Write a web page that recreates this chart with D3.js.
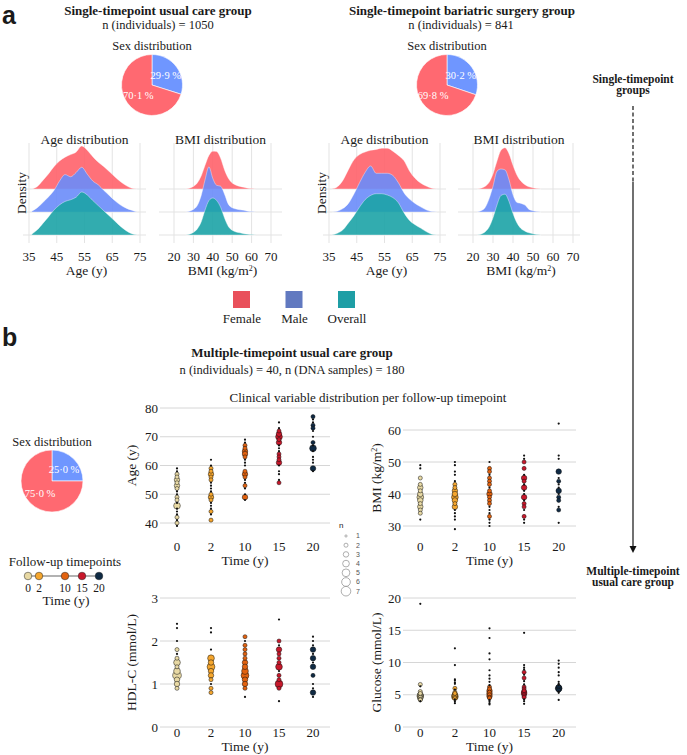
<!DOCTYPE html>
<html>
<head>
<meta charset="utf-8">
<script src="https://cdn.jsdelivr.net/npm/d3@7"></script>
<style>
  body { margin: 0; background: #fff; }
  svg text { font-family: "Liberation Serif", "Times New Roman", serif; fill: #1a1a1a; }
</style>
</head>
<body>
<div id="fig"></div>
<script>
// ---- data ----
const sexLabels = ["Male", "Female"];
const sexSingleUsual = [29.9, 70.1];
const sexSingleBariatric = [30.2, 69.8];
const sexMultiple = [25.0, 75.0];

const groupLabels = ["Female", "Male", "Overall"];

// ridge curves, relative density
const ageGrid = [36, 38, 40, 42, 44, 46, 48, 50, 52, 54, 56, 58, 60, 62, 64, 66, 68, 70, 72, 74];
const usualAgeFemale = [0, 0.06, 0.2, 0.35, 0.52, 0.65, 0.74, 0.8, 0.86, 1.0, 0.9, 0.75, 0.62, 0.52, 0.4, 0.28, 0.17, 0.08, 0.02, 0];
const usualAgeMale = [0.02, 0.1, 0.22, 0.35, 0.5, 0.72, 0.87, 0.82, 0.92, 1.04, 0.88, 0.72, 0.63, 0.5, 0.38, 0.26, 0.16, 0.09, 0.04, 0];
const usualAgeOverall = [0.02, 0.12, 0.27, 0.42, 0.58, 0.7, 0.78, 0.82, 0.88, 1.0, 0.93, 0.8, 0.68, 0.56, 0.44, 0.32, 0.2, 0.1, 0.03, 0];
const bariAgeFemale = [0, 0.05, 0.2, 0.45, 0.68, 0.8, 0.86, 0.9, 0.92, 0.95, 0.95, 0.88, 0.78, 0.66, 0.42, 0.25, 0.14, 0.07, 0.02, 0];
const bariAgeMale = [0, 0.02, 0.08, 0.2, 0.42, 0.68, 0.92, 1.07, 0.9, 0.9, 0.9, 0.85, 0.68, 0.45, 0.3, 0.2, 0.12, 0.05, 0.01, 0];
const bariAgeOverall = [0, 0.04, 0.12, 0.28, 0.45, 0.65, 0.82, 0.92, 0.96, 0.96, 0.93, 0.87, 0.75, 0.52, 0.34, 0.24, 0.16, 0.08, 0.02, 0];

const usualBmiGrid = [26, 28, 30, 32, 34, 36, 38, 40, 42, 44, 46, 48, 50, 52, 54, 56, 58, 60, 62];
const usualBmiFemale = [0, 0.02, 0.06, 0.14, 0.3, 0.55, 0.78, 0.88, 0.87, 0.72, 0.45, 0.25, 0.14, 0.09, 0.06, 0.04, 0.02, 0.01, 0];
const usualBmiMale = [0, 0.02, 0.06, 0.15, 0.38, 0.75, 1.05, 0.78, 0.62, 0.6, 0.42, 0.18, 0.1, 0.07, 0.05, 0.04, 0.02, 0.01, 0];
const usualBmiOverall = [0, 0.02, 0.06, 0.14, 0.3, 0.58, 0.8, 0.86, 0.8, 0.65, 0.4, 0.2, 0.11, 0.07, 0.05, 0.03, 0.02, 0.01, 0];

const bariBmiGrid = [22, 24, 26, 28, 30, 32, 34, 36, 38, 40, 42, 44, 46, 48, 50, 52, 54];
const bariBmiFemale = [0, 0.02, 0.06, 0.15, 0.35, 0.65, 0.9, 0.96, 0.82, 0.55, 0.32, 0.18, 0.1, 0.05, 0.03, 0.01, 0];
const bariBmiMale = [0, 0.03, 0.1, 0.3, 0.6, 0.95, 1.0, 0.98, 0.75, 0.4, 0.22, 0.2, 0.16, 0.06, 0.03, 0.01, 0];
const bariBmiOverall = [0, 0.02, 0.07, 0.18, 0.4, 0.7, 0.92, 0.95, 0.78, 0.5, 0.28, 0.15, 0.09, 0.05, 0.03, 0.01, 0];

const ageTicks = [35, 45, 55, 65, 75];
const bmiTicks = [20, 30, 40, 50, 60, 70];

// multiple-timepoint group: [value, n] per follow-up timepoint
const timepoints = ["0", "2", "10", "15", "20"];
const timeColors = ["#E8D9A4", "#F5A62E", "#E2620F", "#C8182B", "#0F2A44"];

const ageDots = [
  [[59,1],[58,1],[57,2],[56,2],[55,3],[54,2],[53,3],[52,2],[51,1],[50,1],[49,2],[48,2],[47,1],[46,4],[45,1],[44,1],[43,1],[42,2],[41,1],[40,2],[39,1]],
  [[62,1],[60,1],[59,2],[58,2],[57,3],[56,2],[55,2],[54,1],[53,1],[52,1],[51,1],[50,2],[49,3],[48,2],[47,1],[46,1],[45,1],[44,2],[43,1],[41,2]],
  [[69,1],[68,1],[67,2],[66,2],[65,3],[64,3],[63,2],[62,1],[61,1],[60,1],[58,2],[57,3],[56,2],[55,1],[54,1],[53,2],[52,1],[50,1],[49,3],[48,1]],
  [[75,1],[73,1],[72,2],[71,3],[70,4],[69,2],[68,3],[67,1],[66,1],[65,1],[64,2],[63,2],[62,2],[61,3],[60,1],[58,1],[57,1],[55,1],[54,2]],
  [[77,2],[76,1],[75,1],[74,2],[73,2],[72,1],[70,1],[68,2],[67,1],[66,4],[65,1],[63,1],[62,1],[61,1],[59,3],[58,1]]
];
const bmiDots = [
  [[49,1],[48,1],[45,2],[43,2],[42,3],[41,2],[40,3],[39,4],[38,3],[37,2],[36,3],[35,2],[34,2],[32,1]],
  [[50,1],[49,1],[47,1],[46,1],[44,1],[43,2],[42,2],[41,3],[40,3],[39,4],[38,3],[37,2],[36,3],[35,1],[34,1],[33,1],[32,1],[29,1]],
  [[50,1],[48,2],[47,2],[46,1],[45,2],[44,2],[43,2],[42,1],[41,2],[40,3],[39,2],[38,2],[37,2],[36,1],[35,1],[34,1],[33,2],[32,1],[31,1],[30,1]],
  [[52,1],[51,1],[50,2],[48,2],[46,1],[45,3],[44,2],[43,1],[42,3],[41,1],[40,1],[39,3],[38,1],[37,2],[36,2],[35,1],[33,2],[32,1],[31,1]],
  [[62,1],[52,1],[51,1],[47,3],[45,1],[44,2],[43,1],[42,1],[41,3],[40,1],[39,2],[38,2],[36,1],[35,2],[31,1]]
];
const hdlDots = [
  [[2.4,1],[2.3,1],[2.0,1],[1.8,2],[1.7,1],[1.6,2],[1.5,4],[1.4,2],[1.3,4],[1.2,6],[1.1,3],[1.0,3],[0.9,2]],
  [[2.3,1],[2.2,1],[1.8,1],[1.6,4],[1.5,3],[1.4,5],[1.3,3],[1.2,3],[1.1,2],[1.0,1],[0.9,2],[0.8,2]],
  [[2.1,2],[2.0,1],[1.9,2],[1.8,2],[1.7,2],[1.6,2],[1.5,3],[1.4,3],[1.3,4],[1.2,5],[1.1,3],[1.0,3],[0.9,2],[0.7,1]],
  [[2.5,1],[2.0,2],[1.9,1],[1.8,3],[1.7,2],[1.6,2],[1.5,2],[1.4,4],[1.3,1],[1.2,2],[1.1,2],[1.0,5],[0.9,2],[0.6,1]],
  [[2.1,1],[2.0,1],[1.9,1],[1.8,3],[1.7,1],[1.6,3],[1.5,1],[1.4,3],[1.2,2],[1.0,1],[0.9,1],[0.8,3],[0.7,1]]
];
const glucoseDots = [
  [[19.1,1],[6.6,2],[6.3,1],[5.5,2],[5.2,2],[5.0,3],[4.9,3],[4.8,4],[4.7,3],[4.6,2],[4.5,3],[4.3,2],[4.2,2],[4.0,1]],
  [[12.2,1],[9.6,1],[7.4,1],[7.2,1],[6.9,1],[6.7,1],[6.0,2],[5.8,1],[5.4,2],[5.2,2],[5.0,3],[4.9,3],[4.8,3],[4.7,4],[4.6,2],[4.4,2],[4.3,1],[4.0,1],[3.7,1]],
  [[15.3,1],[13.8,1],[11.4,1],[10.5,1],[8.8,1],[8.0,1],[7.5,1],[7.0,1],[6.5,1],[6.2,2],[5.9,2],[5.6,3],[5.4,2],[5.2,3],[5.0,2],[4.8,3],[4.6,2],[4.5,2],[4.2,1],[4.0,1],[3.7,1],[3.5,1]],
  [[14.6,1],[9.6,1],[9.2,1],[8.9,1],[8.5,2],[8.1,1],[7.6,2],[7.1,1],[6.6,1],[6.2,2],[5.9,2],[5.6,2],[5.4,3],[5.2,3],[5.0,2],[4.8,2],[4.6,2],[4.3,1],[4.0,1],[3.6,1]],
  [[10.3,1],[9.8,1],[9.2,1],[8.5,1],[8.0,1],[7.0,1],[6.7,1],[6.5,1],[6.3,2],[6.1,3],[6.0,4],[5.9,3],[5.7,2],[5.5,1],[5.3,1],[4.2,1]]
];
const nLevels = [1, 2, 3, 4, 5, 6, 7];

// ---- styles ----
const ridgeColors = ["#FF626A", "#6A8CFA", "#1CA3A6"];
const legendColors = ["#E9505B", "#6179C0", "#1E9EA5"];
const pieColors = ["#6F96FF", "#FF6971"];
const gridCol = "#e3e3e3";

const svg = d3.select("#fig").append("svg").attr("width", 687).attr("height", 755);

function label(x, y, s, size, opt = {}) {
  return svg.append("text").attr("x", x).attr("y", y)
    .attr("text-anchor", opt.anchor || "middle")
    .style("font-size", size + "px")
    .style("font-weight", opt.bold ? "bold" : null)
    .text(s);
}

// panel letters
svg.append("text").attr("x", 2).attr("y", 24).style("font-family", "Liberation Sans, Arial, sans-serif")
  .style("font-size", "25px").style("font-weight", "bold").text("a");
svg.append("text").attr("x", 2).attr("y", 346).style("font-family", "Liberation Sans, Arial, sans-serif")
  .style("font-size", "25px").style("font-weight", "bold").text("b");

// ---- pies ----
function drawPie(cx, cy, r, vals, labelR) {
  const arcs = d3.pie().sort(null)(vals);
  const g = svg.append("g").attr("transform", `translate(${cx},${cy})`);
  const arc = d3.arc().innerRadius(0).outerRadius(r);
  g.selectAll("path").data(arcs).enter().append("path")
    .attr("d", arc).attr("fill", (d, i) => pieColors[i])
    .attr("stroke", "#fff").attr("stroke-width", 0.6);
  const lab = d3.arc().innerRadius(labelR).outerRadius(labelR);
  g.selectAll("text").data(arcs).enter().append("text")
    .attr("transform", d => `translate(${lab.centroid(d)})`)
    .attr("text-anchor", "middle").attr("dy", "0.35em")
    .style("font-size", "10.5px").style("fill", "#fff")
    .text(d => d3.format(".1f")(d.data).replace(".", "·") + " %");
}

label(158, 15, "Single-timepoint usual care group", 13, { bold: true });
label(158, 29, "n (individuals) = 1050", 12.5);
label(152, 50, "Sex distribution", 12.5);
drawPie(152, 85, 30.5, sexSingleUsual, 17);

label(462, 15, "Single-timepoint bariatric surgery group", 13, { bold: true });
label(461, 29, "n (individuals) = 841", 12.5);
label(447, 50, "Sex distribution", 12.5);
drawPie(447, 85, 30.5, sexSingleBariatric, 17);

// ---- ridgeline panels ----
const baselines = [189, 212, 235];
const unit = 43;

function ridgePanel(cfg) {
  const x = d3.scaleLinear().domain(cfg.domain).range(cfg.range);
  const g = svg.append("g");
  cfg.ticks.forEach(t => {
    g.append("line").attr("x1", x(t)).attr("x2", x(t)).attr("y1", 143).attr("y2", 243)
      .attr("stroke", gridCol).attr("stroke-width", 1);
  });
  baselines.forEach(b => {
    g.append("line").attr("x1", cfg.span[0]).attr("x2", cfg.span[1]).attr("y1", b).attr("y2", b)
      .attr("stroke", gridCol).attr("stroke-width", 1);
  });
  cfg.curves.forEach((vals, k) => {
    const base = baselines[k];
    const area = d3.area()
      .x((d, i) => x(cfg.grid[i]))
      .y0(base)
      .y1(d => base - d * unit)
      .curve(d3.curveMonotoneX);
    g.append("path").datum(vals).attr("d", area)
      .attr("fill", ridgeColors[k]).attr("fill-opacity", 0.9)
      .attr("stroke", "#ffffff").attr("stroke-opacity", 0.55).attr("stroke-width", 0.7);
  });
  const ax = g.append("g").attr("transform", "translate(0,261)");
  cfg.ticks.forEach(t => {
    ax.append("text").attr("x", x(t)).attr("text-anchor", "middle").style("font-size", "13px").text(t);
  });
  label((cfg.span[0] + cfg.span[1]) / 2, 144, cfg.title, 13.5);
  const xl = svg.append("text").attr("x", (cfg.span[0] + cfg.span[1]) / 2 + 2).attr("y", 275)
    .attr("text-anchor", "middle").style("font-size", "13.5px");
  if (cfg.unitLabel) {
    xl.append("tspan").text("BMI (kg/m");
    xl.append("tspan").attr("dy", -4).style("font-size", "8px").text("2");
    xl.append("tspan").attr("dy", 4).text(")");
  } else {
    xl.text(cfg.xlabel);
  }
  if (cfg.density) {
    svg.append("text").attr("transform", `translate(${cfg.density},193) rotate(-90)`)
      .attr("text-anchor", "middle").style("font-size", "13.5px").text("Density");
  }
}

ridgePanel({ domain: [35, 75], range: [29, 140], span: [23, 146], grid: ageGrid, ticks: ageTicks,
  curves: [usualAgeFemale, usualAgeMale, usualAgeOverall], title: "Age distribution", xlabel: "Age (y)", density: 26 });
ridgePanel({ domain: [20, 70], range: [174, 271], span: [159, 282], grid: usualBmiGrid, ticks: bmiTicks,
  curves: [usualBmiFemale, usualBmiMale, usualBmiOverall], title: "BMI distribution", unitLabel: true });
ridgePanel({ domain: [35, 75], range: [329, 440], span: [323, 446], grid: ageGrid, ticks: ageTicks,
  curves: [bariAgeFemale, bariAgeMale, bariAgeOverall], title: "Age distribution", xlabel: "Age (y)", density: 326 });
ridgePanel({ domain: [20, 70], range: [473, 573], span: [458, 580], grid: bariBmiGrid, ticks: bmiTicks,
  curves: [bariBmiFemale, bariBmiMale, bariBmiOverall], title: "BMI distribution", unitLabel: true });

// legend for sex groups
const legX = d3.scalePoint().domain(groupLabels).range([242, 347]);
groupLabels.forEach((k, i) => {
  svg.append("rect").attr("x", legX(k) - 9).attr("y", 291).attr("width", 17).attr("height", 17)
    .attr("fill", legendColors[i]);
  label(legX(k), 323, k, 13);
});

// ---- right-hand flow arrow ----
label(633, 83, "Single-timepoint", 11.5, { bold: true });
label(633, 94, "groups", 11.5, { bold: true });
svg.append("line").attr("x1", 633).attr("x2", 633).attr("y1", 106).attr("y2", 182)
  .attr("stroke", "#111").attr("stroke-width", 1.2).attr("stroke-dasharray", "4,2.5");
svg.append("line").attr("x1", 633).attr("x2", 633).attr("y1", 182).attr("y2", 548)
  .attr("stroke", "#111").attr("stroke-width", 1.2);
svg.append("path").attr("d", "M629.5,546 L633,553 L636.5,546 Z").attr("fill", "#111");
label(633, 575, "Multiple-timepoint", 11.5, { bold: true });
label(633, 586, "usual care group", 11.5, { bold: true });

// ---- panel b ----
label(292, 357, "Multiple-timepoint usual care group", 13, { bold: true });
label(292, 374, "n (individuals) = 40, n (DNA samples) = 180", 12.5);
label(368, 402, "Clinical variable distribution per follow-up timepoint", 13);

label(52, 446, "Sex distribution", 12.5);
drawPie(52, 481, 31, sexMultiple, 17);

const size = d3.scaleSqrt().domain([1, 7]).range([1.1, 4.8]);

function dotPanel(cfg) {
  const x = d3.scalePoint().domain(timepoints).range([cfg.left, cfg.right]).padding(0.5);
  const y = d3.scaleLinear().domain(cfg.domain).range([cfg.bottom, cfg.top]);
  const g = svg.append("g");
  cfg.ticks.forEach(t => {
    g.append("line").attr("x1", cfg.left).attr("x2", cfg.right).attr("y1", y(t)).attr("y2", y(t))
      .attr("stroke", "#d6d6d6").attr("stroke-width", 1);
    g.append("text").attr("x", cfg.left - 2).attr("y", y(t)).attr("dy", "0.35em")
      .attr("text-anchor", "end").style("font-size", "13px").text(t);
  });
  timepoints.forEach((tp, i) => {
    const pts = cfg.data[i].slice().sort((a, b) => b[1] - a[1]);
    g.selectAll(null).data(pts).enter().append("circle")
      .attr("cx", x(tp)).attr("cy", d => y(d[0])).attr("r", d => size(d[1]))
      .attr("fill", d => d[1] === 1 ? "#111" : timeColors[i])
      .attr("stroke", "#111").attr("stroke-width", d => d[1] === 1 ? 0 : 0.5);
    g.append("text").attr("x", x(tp)).attr("y", cfg.axisY).attr("text-anchor", "middle")
      .style("font-size", "13px").text(tp);
  });
  label((cfg.left + cfg.right) / 2, cfg.axisY + 14, "Time (y)", 13.5);
  const yl = svg.append("text").attr("transform", `translate(${cfg.ylabX},${(cfg.top + cfg.bottom) / 2}) rotate(-90)`)
    .attr("text-anchor", "middle").style("font-size", "13.5px");
  if (cfg.sup) {
    yl.append("tspan").text("BMI (kg/m");
    yl.append("tspan").attr("dy", -4).style("font-size", "8px").text("2");
    yl.append("tspan").attr("dy", 4).text(")");
  } else {
    yl.text(cfg.ylab);
  }
}

dotPanel({ left: 160, right: 330, top: 408, bottom: 523, axisY: 551, domain: [40, 80], ticks: [40, 50, 60, 70, 80],
  data: ageDots, ylab: "Age (y)", ylabX: 136 });
dotPanel({ left: 403, right: 576, top: 430, bottom: 526, axisY: 551, domain: [30, 60], ticks: [30, 40, 50, 60],
  data: bmiDots, sup: true, ylabX: 381 });
dotPanel({ left: 160, right: 330, top: 598, bottom: 727, axisY: 737, domain: [0, 3], ticks: [0, 1, 2, 3],
  data: hdlDots, ylab: "HDL-C (mmol/L)", ylabX: 136 });
dotPanel({ left: 403, right: 576, top: 598, bottom: 727, axisY: 737, domain: [0, 20], ticks: [0, 5, 10, 15, 20],
  data: glucoseDots, ylab: "Glucose (mmol/L)", ylabX: 381 });

// n size legend
svg.append("text").attr("x", 339).attr("y", 528).style("font-family", "Liberation Sans, Arial, sans-serif")
  .style("font-size", "8px").text("n");
nLevels.forEach((n, i) => {
  const cy = 536 + i * 9.2;
  svg.append("circle").attr("cx", 346).attr("cy", cy).attr("r", size(n))
    .attr("fill", "none").attr("stroke", "#999").attr("stroke-width", 0.8);
  svg.append("text").attr("x", 356).attr("y", cy).attr("dy", "0.35em")
    .style("font-family", "Liberation Sans, Arial, sans-serif").style("font-size", "7px")
    .style("fill", "#555").text(n);
});

// follow-up timepoint legend (positions along the line)
label(65, 566, "Follow-up timepoints", 13);
const tx = d3.scaleLinear().domain([0, 2, 10, 15, 20]).range([28, 39, 65, 82, 99]);
svg.append("line").attr("x1", tx(0)).attr("x2", tx(20)).attr("y1", 576).attr("y2", 576)
  .attr("stroke", "#999").attr("stroke-width", 1.3);
timepoints.forEach((tp, i) => {
  svg.append("circle").attr("cx", tx(+tp)).attr("cy", 576).attr("r", 3.8)
    .attr("fill", timeColors[i]).attr("stroke", "#222").attr("stroke-width", 0.5);
  label(tx(+tp), 592, tp, 11.5);
});
label(66, 605, "Time (y)", 13.5);
</script>
</body>
</html>
